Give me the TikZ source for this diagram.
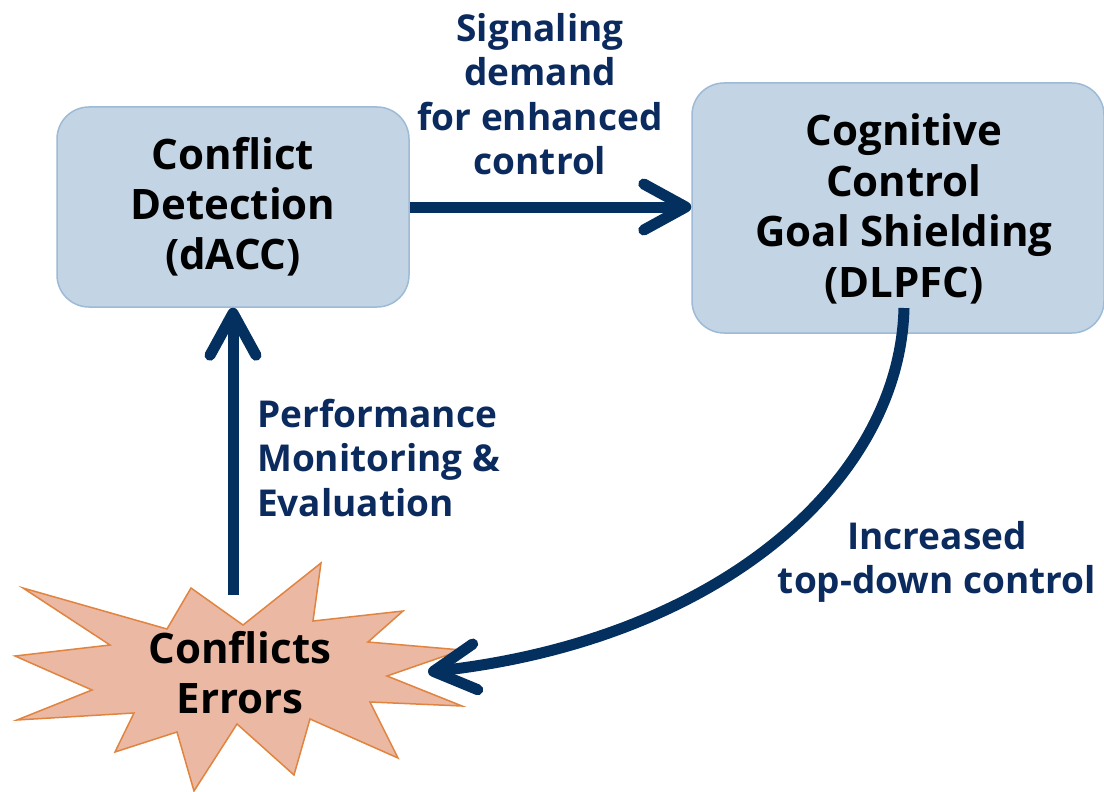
\documentclass[tikz,border=0pt]{standalone}
\usepackage{fontspec}
\setmainfont{Open Sans}
\usetikzlibrary{arrows.meta}
\definecolor{boxfill}{HTML}{C3D4E5}
\definecolor{boxline}{HTML}{9DBAD6}
\definecolor{navy}{HTML}{03305E}
\definecolor{labnavy}{HTML}{0B2A5E}
\definecolor{starfill}{HTML}{EAB8A3}
\definecolor{starline}{HTML}{E0843F}
\tikzset{
  region/.style={draw=boxline, line width=1.5pt, fill=boxfill, rounded corners=32pt,
    align=center, font=\fontsize{42}{50}\selectfont\bfseries, text=black, inner sep=0pt},
  conn/.style={draw=navy, line width=11pt, -{Straight Barb[round,length=42pt,width=46pt]}},
  lab/.style={text=labnavy, font=\fontsize{37}{44.5}\selectfont\bfseries, inner sep=0pt},
  burst/.style={draw=starline, line width=1.5pt, fill=starfill, line join=miter}
}
\begin{document}
\begin{tikzpicture}[x=1pt,y=-1pt]
\useasboundingbox (0,0) rectangle (1104,792);
\node[region, minimum width=352pt, minimum height=200pt] (b1) at (233,207)
  {Conflict\\Detection\\(dACC)};
\node[region, minimum width=412pt, minimum height=250pt] (b2) at (898,208) {};
\node[align=center, font=\fontsize{42}{50.5}\selectfont\bfseries, inner sep=0pt] (b2t) at (904,209)
  {Cognitive\\Control\\Goal Shielding\\(DLPFC)};
% starburst
\path[burst] (23,588) -- (167,629) -- (191,588) -- (243,625) -- (321,563) -- (313,621)
  -- (403,611) -- (368,642) -- (462,650) -- (387,676) -- (462,706) -- (370,702)
  -- (398,758) -- (310,719) -- (294,775) -- (237,724) -- (194,791) -- (177,732)
  -- (115,752) -- (134,713) -- (17,720) -- (92,690) -- (15,656) -- (110,645) -- cycle;
\node[align=center, font=\fontsize{42}{50}\selectfont\bfseries, inner sep=0pt] (ce) at (240,673)
  {Conflicts\\Errors};
\coordinate (s) at (233,595);
\coordinate (c0) at (904,308);
\coordinate (e) at (428,672);
% connectors
\draw[conn] (b1.east) -- (b2.west |- b1.east);
\draw[conn] (s) -- (b1.south);
\draw[conn] (c0) .. controls (900,480) and (720,640) .. (e);
% labels
\node[lab, align=center] (l1) at (540,94) {Signaling\\demand\\for enhanced\\control};
\node[lab, align=left, anchor=west] (l2) at (257,458) {Performance\\Monitoring \&\\Evaluation};
\node[lab, align=center] (l3) at (937,562) {Increased\\top-down control};
\end{tikzpicture}
\end{document}
